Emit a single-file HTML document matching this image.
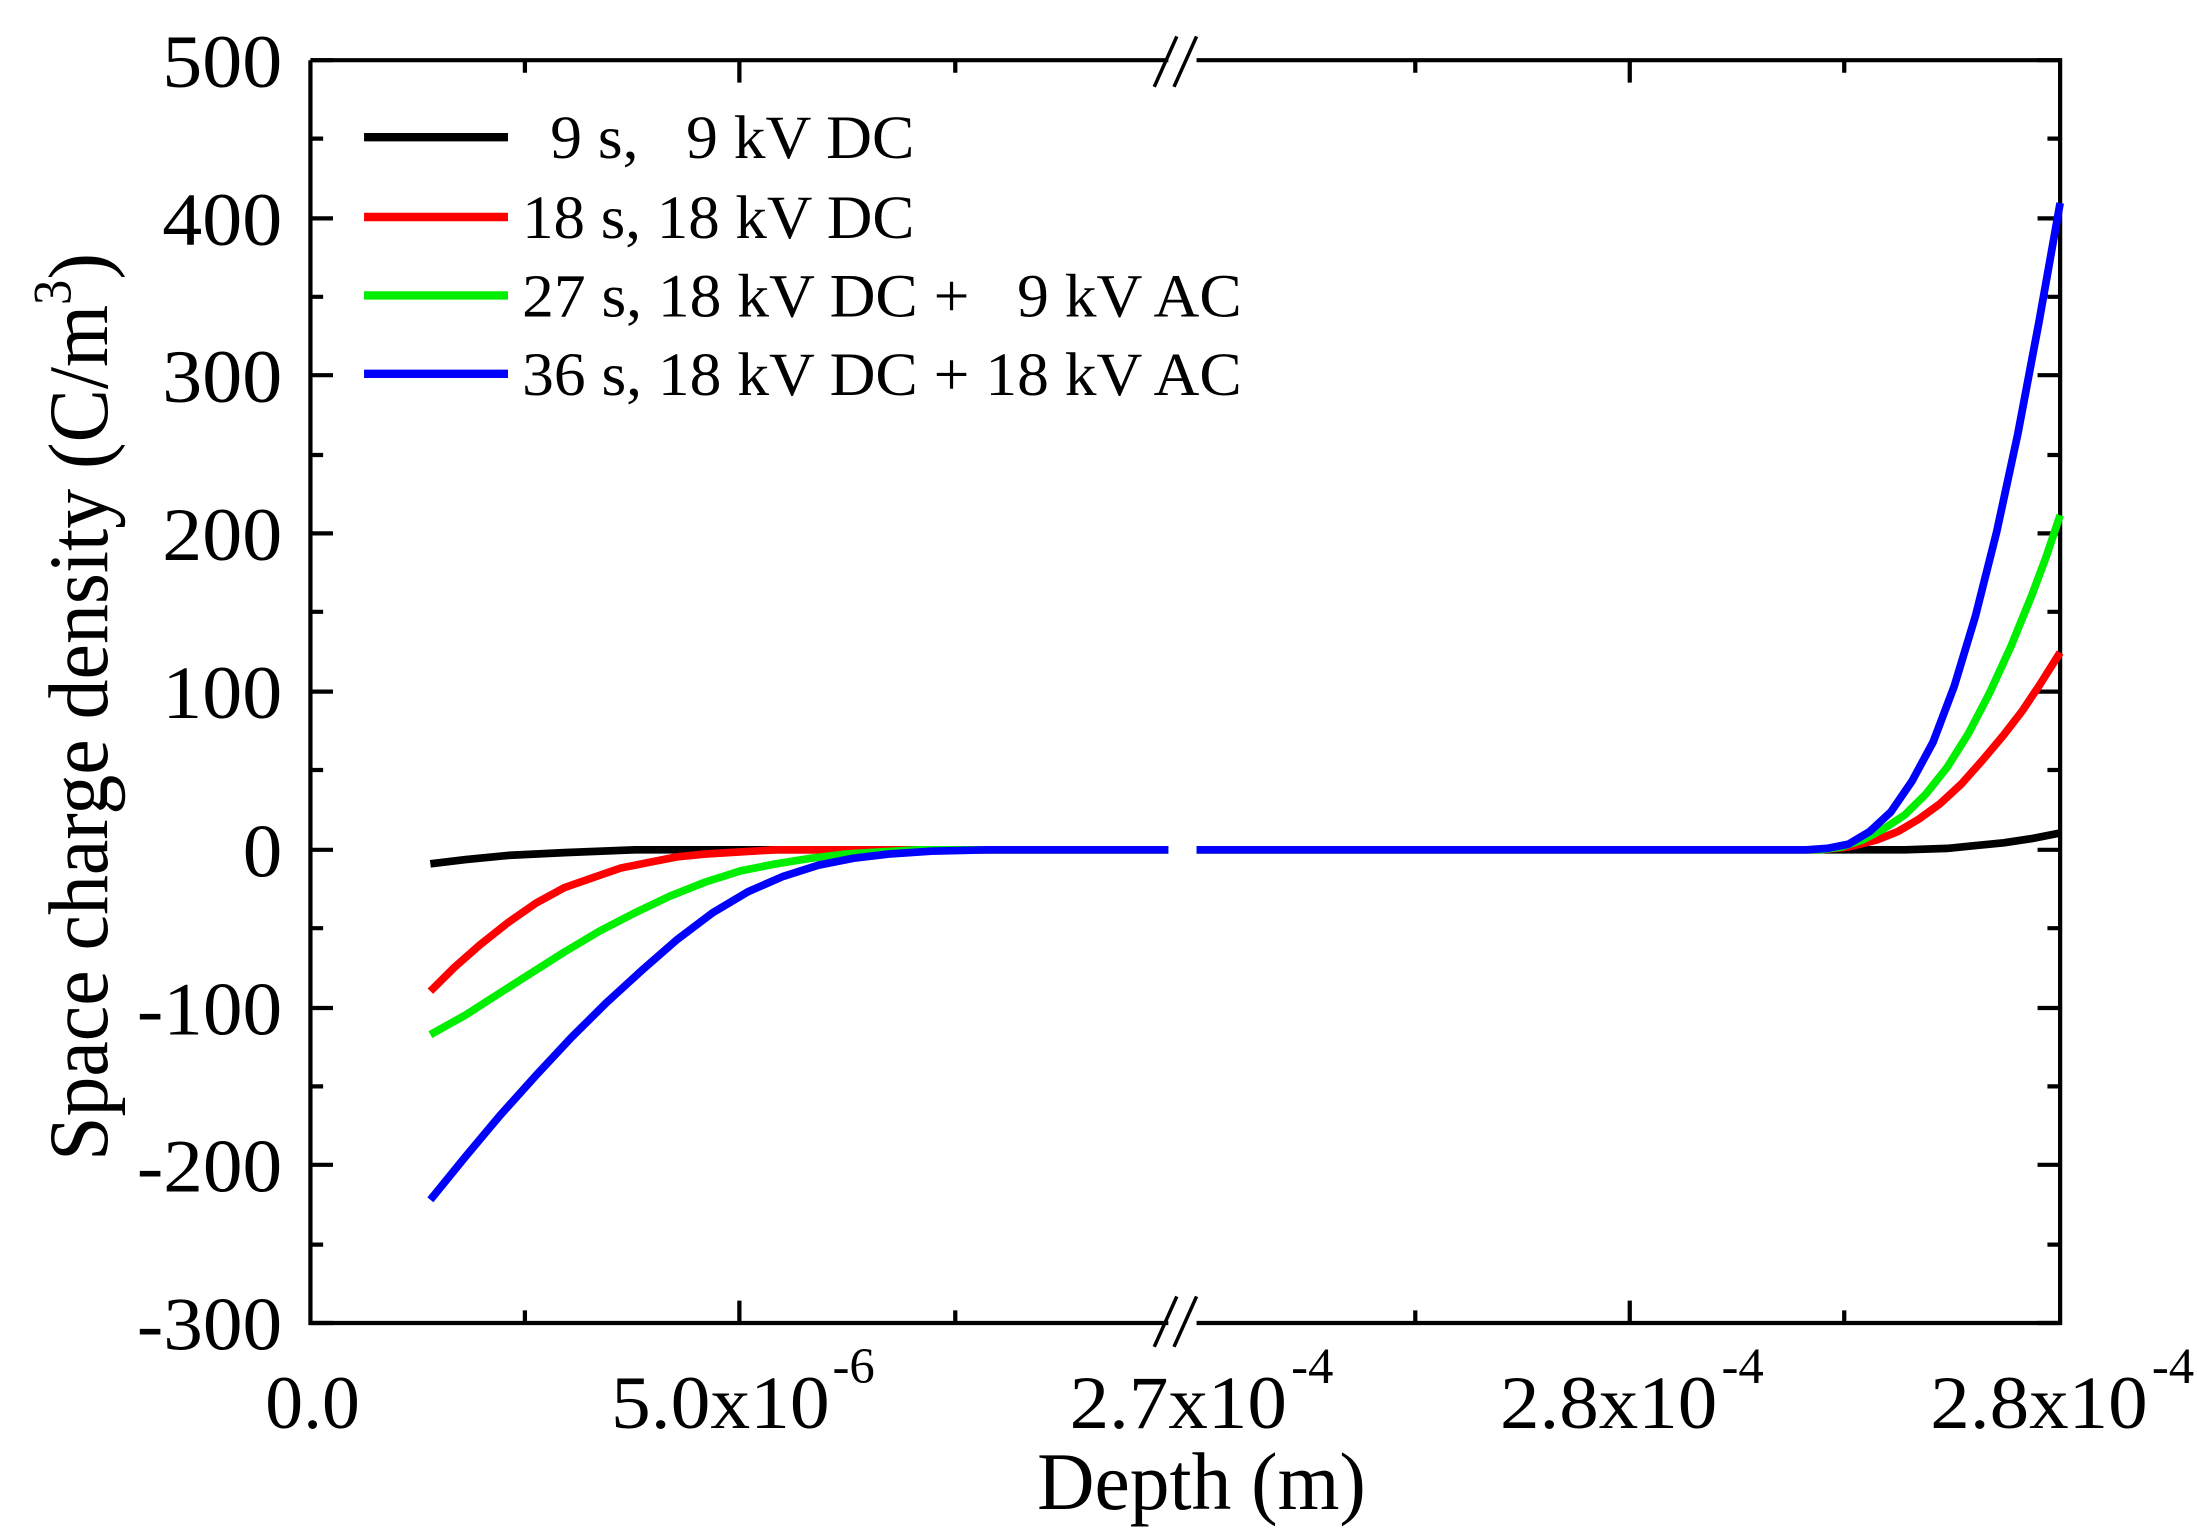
<!DOCTYPE html>
<html><head><meta charset="utf-8"><style>
html,body{margin:0;padding:0;background:#fff;}
svg{display:block;}
text{font-family:"Liberation Serif",serif;fill:#000;}
</style></head><body>
<svg width="2197" height="1540" viewBox="0 0 1557 1100" preserveAspectRatio="none" xmlns="http://www.w3.org/2000/svg">
<rect width="1557" height="1100" fill="#fff"/>
<g stroke="#000" stroke-width="3" fill="none">
<path d="M220,43 V945 H828 M848,945 H1460 V43 H848 M828,43 H220"/>
<path d="M220,43h16 M220,156h16 M220,268h16 M220,381h16 M220,494h16 M220,607h16 M220,720h16 M220,832h16 M220,945h16
M220,99h9 M220,212h9 M220,325h9 M220,437h9 M220,550h9 M220,663h9 M220,776h9 M220,889h9
M1460,43h-16 M1460,156h-16 M1460,268h-16 M1460,381h-16 M1460,494h-16 M1460,607h-16 M1460,720h-16 M1460,832h-16 M1460,945h-16
M1460,99h-9 M1460,212h-9 M1460,325h-9 M1460,437h-9 M1460,550h-9 M1460,663h-9 M1460,776h-9 M1460,889h-9"/>
<path d="M524,945v-16 M1155,945v-16 M372,945v-9 M677,945v-9 M1003,945v-9 M1307,945v-9
M524,43v16 M1155,43v16 M372,43v9 M677,43v9 M1003,43v9 M1307,43v9"/>
<path d="M818,962 L834,926 M832,962 L848,926 M818,62 L834,26 M832,62 L848,26" stroke-width="2.5"/>
</g>
<g fill="none" stroke-width="5.5" stroke-linejoin="round" stroke-linecap="butt">
<polyline stroke="#000" points="305,617 330,614 360,611 400,609 450,607 500,607 828,607"/>
<polyline stroke="#000" points="848,607 1350,607 1380,606 1400,604 1420,602 1440,599 1460,595"/>
<polyline stroke="#ff0000" points="305,708 322,691 340,675 360,659 380,645 400,634 420,627 440,620 460,616 480,612 500,610 550,607 828,607"/>
<polyline stroke="#ff0000" points="848,607 1290,607 1310,605 1330,600 1345,594 1360,585 1375,574 1390,560 1405,543 1420,525 1433,508 1445,490 1460,466"/>
<polyline stroke="#00ee00" points="305,739 330,725 350,712 375,696 400,680 425,665 450,652 475,640 500,630 525,622 550,617 575,613 600,610 650,607 828,607"/>
<polyline stroke="#00ee00" points="848,607 1290,607 1305,605 1320,600 1335,592 1350,582 1365,567 1380,548 1395,524 1410,495 1425,462 1440,425 1450,398 1460,368"/>
<polyline stroke="#0000ff" points="305,857 330,826 355,796 380,768 405,741 430,716 455,693 480,671 505,652 530,637 555,626 580,618 605,613 630,610 660,608 700,607 828,607"/>
<polyline stroke="#0000ff" points="848,607 1280,607 1295,606 1310,603 1325,594 1340,580 1355,558 1370,530 1385,490 1400,440 1415,380 1430,310 1445,230 1460,145"/>
</g>
<g stroke-width="6">
<line x1="258" y1="98" x2="360" y2="98" stroke="#000"/>
<line x1="258" y1="155" x2="360" y2="155" stroke="#ff0000"/>
<line x1="258" y1="211" x2="360" y2="211" stroke="#00ee00"/>
<line x1="258" y1="267" x2="360" y2="267" stroke="#0000ff"/>
</g>
<g font-size="44" lengthAdjust="spacingAndGlyphs">
<text x="390" y="113" textLength="258" lengthAdjust="spacingAndGlyphs" xml:space="preserve">9 s,   9 kV DC</text>
<text x="370" y="170" textLength="278" lengthAdjust="spacingAndGlyphs">18 s, 18 kV DC</text>
<text x="370" y="226" textLength="510" lengthAdjust="spacingAndGlyphs" xml:space="preserve">27 s, 18 kV DC +   9 kV AC</text>
<text x="370" y="282" textLength="510" lengthAdjust="spacingAndGlyphs">36 s, 18 kV DC + 18 kV AC</text>
</g>
<g font-size="54">
<text x="115" y="62" textLength="85" lengthAdjust="spacingAndGlyphs">500</text>
<text x="115" y="175" textLength="85" lengthAdjust="spacingAndGlyphs">400</text>
<text x="115" y="287" textLength="85" lengthAdjust="spacingAndGlyphs">300</text>
<text x="115" y="400" textLength="85" lengthAdjust="spacingAndGlyphs">200</text>
<text x="115" y="513" textLength="85" lengthAdjust="spacingAndGlyphs">100</text>
<text x="172" y="626" textLength="28" lengthAdjust="spacingAndGlyphs">0</text>
<text x="97" y="739" textLength="103" lengthAdjust="spacingAndGlyphs">-100</text>
<text x="97" y="851" textLength="103" lengthAdjust="spacingAndGlyphs">-200</text>
<text x="97" y="964" textLength="103" lengthAdjust="spacingAndGlyphs">-300</text>
</g>
<g font-size="54">
<text x="188" y="1020" textLength="67" lengthAdjust="spacingAndGlyphs">0.0</text>
<text x="433" y="1020" textLength="155" lengthAdjust="spacingAndGlyphs">5.0x10</text><text x="590" y="988" font-size="36">-6</text>
<text x="758" y="1020" textLength="154" lengthAdjust="spacingAndGlyphs">2.7x10</text><text x="915" y="988" font-size="36">-4</text>
<text x="1063" y="1020" textLength="154" lengthAdjust="spacingAndGlyphs">2.8x10</text><text x="1220" y="988" font-size="36">-4</text>
<text x="1368" y="1020" textLength="154" lengthAdjust="spacingAndGlyphs">2.8x10</text><text x="1525" y="988" font-size="36">-4</text>
</g>
<text x="735" y="1078" font-size="58" textLength="233" lengthAdjust="spacingAndGlyphs">Depth (m)</text>
<g transform="translate(76,505) rotate(-90) scale(0.95,1)">
<text x="0" y="0" font-size="60" text-anchor="middle">Space charge density (C/m<tspan font-size="38" dy="-26">3</tspan><tspan dy="26">)</tspan></text>
</g>
</svg>
</body></html>
